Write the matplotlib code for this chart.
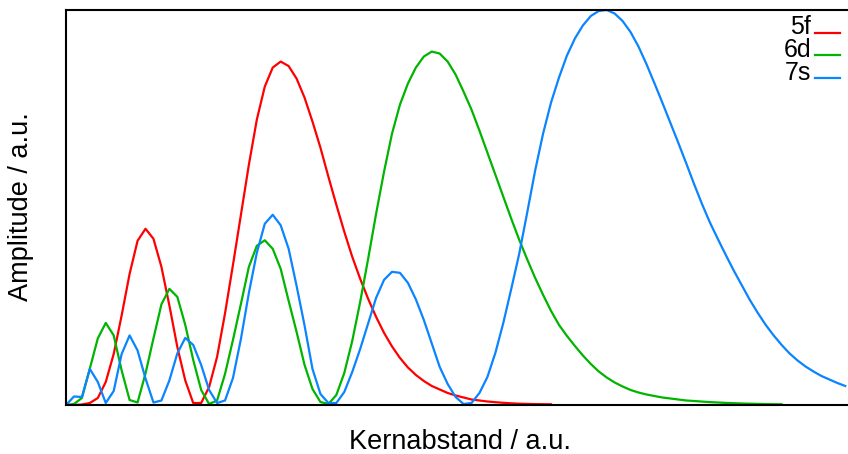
import numpy as np
import matplotlib.pyplot as plt

plt.rcParams['font.family'] = ['Liberation Sans', 'DejaVu Sans']

# |Radialfunktion| der Orbitale 5f, 6d, 7s, gleichmaessig abgetastet
amp_5f = [0, 0, 0.5, 2, 7, 23, 51, 89.5, 131, 164, 176, 166, 138, 99.5, 58, 24.5,
          2, 2, 18, 48, 91.5, 140, 190, 240, 285, 318, 337, 343, 338.5, 326, 307, 283,
          257, 228, 200, 173, 148, 126, 106, 88, 72, 58.5, 47, 37.5, 30, 24, 19, 15.5,
          12, 9.5, 7.5, 5.5, 4.5, 3.5, 2.8, 2.2, 1.7, 1.3, 1.1, 0.9, 0.8, 0.7]
amp_6d = [0, 1, 7, 36.5, 66.5, 82, 69.5, 34.5, 5, 2.5, 31.5, 66.5, 100.5, 116, 108, 80,
          45, 15, 1, 4.5, 31, 65, 101, 138, 159, 164.5, 156, 136, 104, 73, 40, 16,
          3, 1, 10, 32, 64, 103, 146, 191, 233, 271, 300, 321, 337, 348, 353, 351,
          343, 330, 313, 295, 274, 252, 230, 208, 186, 165, 145.5, 127, 110, 94, 80, 69,
          59, 49.5, 41, 33.5, 27.5, 22.5, 18.5, 15, 12.5, 10.5, 9, 7.5, 6.5, 5.5, 4.5, 4,
          3.4, 2.9, 2.5, 2.1, 1.8, 1.5, 1.3, 1.1, 0.9, 0.8, 0.7]
amp_7s = [0, 8.5, 8, 36, 23, 2, 14, 51, 69.5, 54.5, 26.5, 2.5, 4.5, 24.5, 51.5, 67,
          60, 40, 15, 2, 4.5, 27, 66, 112, 152, 181, 190, 179.5, 156, 119, 79.5, 36,
          11, 2, 2, 13, 33, 56, 81.5, 107, 125, 133, 132, 122, 105.5, 85, 61.5, 38,
          21, 8, 1, 2, 12, 28, 52, 82, 116, 151, 192, 234, 271, 302, 327, 349,
          366, 379, 388.5, 393.5, 394.5, 391, 383.5, 372.5, 358, 340.5, 321.5, 302, 282, 262,
          241.5, 220.5, 200.5, 182, 165.5, 149.5, 134, 119.5, 105, 92, 80, 69.5, 60, 51.5,
          44.5, 38.5, 33.5, 29, 25.5, 22, 19]

labels = ['5f', '6d', '7s']
colors = ['#ff0000', '#00b400', '#0a84ff']

fig = plt.figure(figsize=(8.48, 4.54), dpi=100)
ax = fig.add_axes([66 / 848, 49 / 454, 782 / 848, 395 / 454])

for amp, c in zip([amp_5f, amp_6d, amp_7s], colors):
    r = np.arange(len(amp))
    ax.plot(r, amp, color=c, lw=1.6)

ax.set_xlim(0, 98.35)
ax.set_ylim(0, max(amp_7s))
ax.set_xticks([])
ax.set_yticks([])
for s in ['left', 'bottom', 'top']:
    ax.spines[s].set_linewidth(1.5)
ax.spines['right'].set_visible(False)

# Legende von Hand: Text rechtsbuendig, kurze Linie dahinter
rows_y = [0.943, 0.886, 0.828]
for lab, c, y in zip(labels, colors, rows_y):
    ax.text(0.9527, y - 0.004, lab, transform=ax.transAxes, ha='right',
            va='baseline', fontsize=18)
    ax.plot([0.958, 0.990], [y, y], transform=ax.transAxes, color=c, lw=1.6,
            clip_on=False)

ax.set_xlabel('Kernabstand / a.u.', fontsize=19.5)
ax.set_ylabel('Amplitude / a.u.', fontsize=19.5)
ax.xaxis.set_label_coords(0.504, -0.062)
ax.yaxis.set_label_coords(-0.041, 0.502)

plt.savefig('out.png', dpi=100)
